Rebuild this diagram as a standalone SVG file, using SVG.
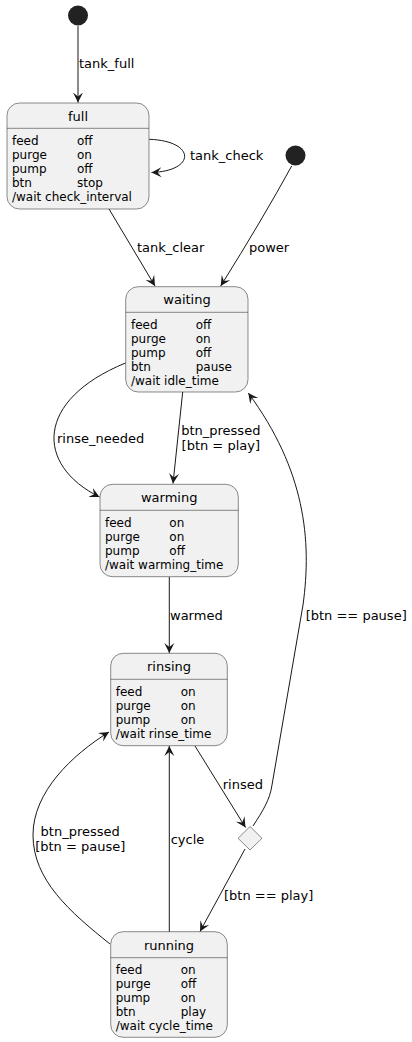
<svg xmlns="http://www.w3.org/2000/svg" width="412" height="1042" viewBox="0 0 412 1042">
<defs>
<style>
.box{fill:#F1F1F1;stroke:#181818;stroke-width:0.5}
.sep{stroke:#181818;stroke-width:0.5}
.title{font-family:"DejaVu Sans",sans-serif;font-size:13px;fill:#000;text-anchor:middle}
.row{font-family:"DejaVu Sans",sans-serif;font-size:12px;fill:#000}
.lbl{font-family:"DejaVu Sans",sans-serif;font-size:13px;fill:#000}
.lblc{font-family:"DejaVu Sans",sans-serif;font-size:13px;fill:#000;text-anchor:middle}
.edge{fill:none;stroke:#181818;stroke-width:1;marker-end:url(#arr)}
.start{fill:#222222;stroke:none}
</style>
<marker id="arr" markerUnits="userSpaceOnUse" markerWidth="12" markerHeight="12" refX="10" refY="5" orient="auto" viewBox="0 0 12 10">
<path d="M0,0 L10,5 L0,10 L4,5 Z" fill="#181818"/>
</marker>
</defs>

<g id="start1"><circle class="start" cx="78" cy="15.5" r="10"/></g>
<g id="start2"><circle class="start" cx="295.5" cy="155.5" r="10"/></g>

<g id="full">
<rect class="box" x="7" y="103" width="142" height="106" rx="12.5"/>
<text class="title" x="78" y="121">full</text>
<line class="sep" x1="7" y1="128.3" x2="149" y2="128.3"/>
<text class="row" x="12" y="144.5">feed</text><text class="row" x="77" y="144.5">off</text>
<text class="row" x="12" y="158.5">purge</text><text class="row" x="77" y="158.5">on</text>
<text class="row" x="12" y="172.5">pump</text><text class="row" x="77" y="172.5">off</text>
<text class="row" x="12" y="186.5">btn</text><text class="row" x="77" y="186.5">stop</text>
<text class="row" x="12" y="200.5">/wait check_interval</text>
</g>

<g id="waiting">
<rect class="box" x="125.7" y="286.7" width="122.3" height="105.3" rx="12.5"/>
<text class="title" x="187" y="304">waiting</text>
<line class="sep" x1="125.7" y1="312.3" x2="248" y2="312.3"/>
<text class="row" x="131" y="328.5">feed</text><text class="row" x="195.7" y="328.5">off</text>
<text class="row" x="131" y="342.5">purge</text><text class="row" x="195.7" y="342.5">on</text>
<text class="row" x="131" y="356.5">pump</text><text class="row" x="195.7" y="356.5">off</text>
<text class="row" x="131" y="370.5">btn</text><text class="row" x="195.7" y="370.5">pause</text>
<text class="row" x="131" y="384.5">/wait idle_time</text>
</g>

<g id="warming">
<rect class="box" x="100" y="484.3" width="138.3" height="92.4" rx="12.5"/>
<text class="title" x="169.2" y="501.5">warming</text>
<line class="sep" x1="100" y1="510.3" x2="238.3" y2="510.3"/>
<text class="row" x="105" y="527">feed</text><text class="row" x="169.3" y="527">on</text>
<text class="row" x="105" y="541">purge</text><text class="row" x="169.3" y="541">on</text>
<text class="row" x="105" y="555">pump</text><text class="row" x="169.3" y="555">off</text>
<text class="row" x="105" y="569">/wait warming_time</text>
</g>

<g id="rinsing">
<rect class="box" x="110.7" y="653.3" width="116.6" height="92.4" rx="12.5"/>
<text class="title" x="169" y="671">rinsing</text>
<line class="sep" x1="110.7" y1="679.3" x2="227.3" y2="679.3"/>
<text class="row" x="115.7" y="695.5">feed</text><text class="row" x="180.7" y="695.5">on</text>
<text class="row" x="115.7" y="709.5">purge</text><text class="row" x="180.7" y="709.5">on</text>
<text class="row" x="115.7" y="723.5">pump</text><text class="row" x="180.7" y="723.5">on</text>
<text class="row" x="115.7" y="737.5">/wait rinse_time</text>
</g>

<g id="choice">
<polygon class="box" points="250,826.5 262,838.3 250,850 238,838.3"/>
</g>

<g id="running">
<rect class="box" x="110.7" y="931.7" width="116.6" height="105.6" rx="12.5"/>
<text class="title" x="169" y="950">running</text>
<line class="sep" x1="110.7" y1="957.7" x2="227.3" y2="957.7"/>
<text class="row" x="115.7" y="973.8">feed</text><text class="row" x="180.7" y="973.8">on</text>
<text class="row" x="115.7" y="987.8">purge</text><text class="row" x="180.7" y="987.8">off</text>
<text class="row" x="115.7" y="1001.8">pump</text><text class="row" x="180.7" y="1001.8">on</text>
<text class="row" x="115.7" y="1015.8">btn</text><text class="row" x="180.7" y="1015.8">play</text>
<text class="row" x="115.7" y="1029.8">/wait cycle_time</text>
</g>

<g id="connectors">
<path class="edge" d="M78,26 L78,102.5"/>
<text class="lbl" x="79" y="68">tank_full</text>
<path class="edge" d="M149.3,139.3 C196,141 196,171 151.5,172.5"/>
<text class="lbl" x="190" y="160">tank_check</text>
<path class="edge" d="M109,209 L155,286"/>
<text class="lbl" x="137" y="251.5">tank_clear</text>
<path class="edge" d="M291.7,166 Q262,220 220.7,286"/>
<text class="lbl" x="249" y="251.5">power</text>
<path class="edge" d="M125.5,363 C35,400 35,465 99.5,497"/>
<text class="lbl" x="57" y="442.5">rinse_needed</text>
<path class="edge" d="M182.7,392 L173,483.5"/>
<text class="lblc" x="220.8" y="435">btn_pressed</text>
<text class="lblc" x="220.8" y="450">[btn = play]</text>
<path class="edge" d="M169.3,577 L169.3,653"/>
<text class="lbl" x="170" y="619.5">warmed</text>
<path class="edge" d="M253,826 C262,812 270,800 272,785 L303,605 C312,540 305,470 248.3,393"/>
<text class="lbl" x="305.7" y="619.5">[btn == pause]</text>
<path class="edge" d="M195,746 L245.5,827.5"/>
<text class="lbl" x="222.7" y="788.5">rinsed</text>
<path class="edge" d="M169.3,931.7 L169.3,746"/>
<text class="lbl" x="170.7" y="843.5">cycle</text>
<path class="edge" d="M110,944 C70,912 33,880 33,835 C33,792 72,755 109,732"/>
<text class="lblc" x="80.2" y="836">btn_pressed</text>
<text class="lblc" x="80.2" y="851">[btn = pause]</text>
<path class="edge" d="M245,849 L200,931.5"/>
<text class="lbl" x="224" y="899.5">[btn == play]</text>
</g>
</svg>
